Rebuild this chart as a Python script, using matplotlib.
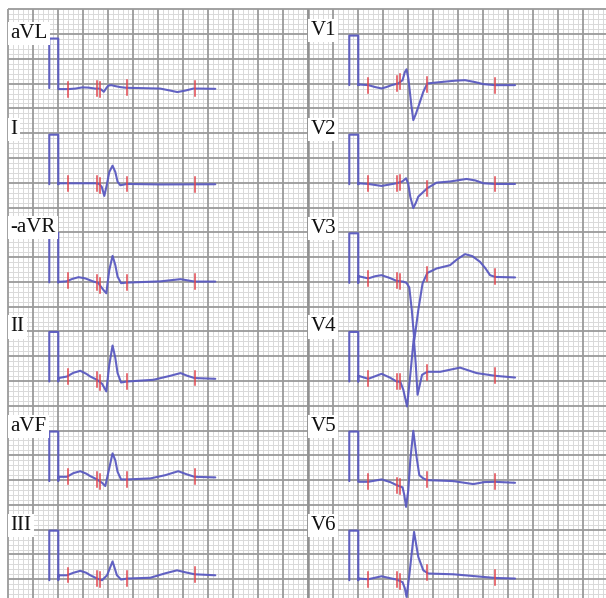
import numpy as np
import matplotlib.pyplot as plt

plt.rcParams['font.family'] = ['Liberation Serif', 'DejaVu Serif']

# ---- traces: time after calibration pulse (ms), amplitude above pulse base (mV)
AVL_T = [0, 80, 136, 192, 240, 296, 328, 344, 364, 384, 400, 424, 456, 496, 544,
         656, 816, 896, 952, 1016, 1080, 1136, 1256]
AVL_MV = [-0.02, -0.02, -0.01, 0.014, 0.01, -0.01, -0.01, -0.03, -0.075, 0.0, 0.05,
          0.06, 0.04, 0.02, 0.006, 0.0, -0.01, -0.05, -0.08, -0.05, -0.01, -0.01, -0.015]

I_T = [0, 296, 328, 348, 368, 388, 408, 434, 456, 474, 496, 550, 816, 1256]
I_MV = [0.02, 0.02, 0.006, -0.055, -0.236, -0.014, 0.248, 0.375, 0.248, 0.052,
        -0.02, 0.006, -0.004, 0.0]

AVR_T = [0, 64, 112, 162, 216, 282, 320, 336, 360, 384, 408, 434, 456, 474, 502,
         550, 816, 978, 1090, 1256]
AVR_MV = [0.01, 0.02, 0.07, 0.105, 0.08, 0.016, -0.01, -0.07, -0.15, -0.22, 0.25,
          0.535, 0.35, 0.117, -0.016, -0.004, 0.02, 0.065, 0.016, 0.016]

II_T = [2, 69, 120, 176, 224, 256, 310, 350, 384, 408, 434, 456, 474, 502, 550,
        760, 896, 978, 1032, 1090, 1256]
II_MV = [0.07, 0.10, 0.175, 0.216, 0.155, 0.10, 0.034, -0.046, -0.20, 0.337, 0.726,
         0.478, 0.17, -0.02, 0.0, 0.034, 0.115, 0.17, 0.115, 0.07, 0.054]

AVF_T = [2, 69, 120, 176, 224, 256, 310, 350, 376, 404, 434, 456, 474, 502, 550,
         736, 856, 960, 1024, 1090, 1256]
AVF_MV = [0.087, 0.087, 0.16, 0.20, 0.15, 0.10, 0.034, -0.034, -0.10, 0.22, 0.56,
          0.42, 0.19, 0.034, 0.034, 0.054, 0.12, 0.20, 0.14, 0.087, 0.075]

III_T = [2, 69, 120, 176, 224, 256, 310, 350, 390, 434, 469, 502, 550, 736, 856,
         950, 1016, 1090, 1256]
III_MV = [0.10, 0.10, 0.15, 0.19, 0.15, 0.10, 0.034, 0.0, 0.10, 0.38, 0.10, 0.014,
          0.034, 0.05, 0.14, 0.20, 0.16, 0.12, 0.10]

V1_T = [0, 80, 136, 186, 224, 266, 320, 354, 372, 386, 400, 408, 424, 440, 460, 480,
        520, 552, 680, 776, 854, 936, 1000, 1094, 1254]
V1_MV = [0.014, 0.0, -0.04, -0.067, -0.04, 0.0, 0.034, 0.10, 0.26, 0.32, 0.14, -0.034,
         -0.40, -0.706, -0.585, -0.438, -0.135, 0.034, 0.067, 0.09, 0.10, 0.06, 0.02,
         0.0, 0.0]

V2_T = [0, 80, 186, 306, 352, 382, 400, 416, 440, 460, 480, 552, 626, 736, 866, 936,
        1000, 1094, 1254]
V2_MV = [0.02, 0.006, -0.034, 0.02, 0.056, 0.12, 0.006, -0.256, -0.48, -0.377, -0.25,
         -0.08, 0.032, 0.056, 0.107, 0.077, 0.02, 0.006, 0.006]

V3_T = [0, 80, 136, 186, 256, 306, 360, 386, 408, 428, 448, 480, 514, 552, 626, 734,
        792, 854, 912, 974, 1016, 1054, 1094, 1254]
V3_MV = [0.135, 0.09, 0.135, 0.155, 0.095, 0.04, 0.024, 0.0, -0.093, -0.55, -1.156,
         -0.55, -0.012, 0.20, 0.29, 0.357, 0.478, 0.58, 0.54, 0.424, 0.297, 0.155,
         0.12, 0.11]

V4_T = [0, 80, 186, 256, 306, 336, 360, 390, 416, 444, 460, 474, 492, 510, 552, 656,
        814, 946, 1094, 1254]
V4_MV = [0.115, 0.054, 0.155, 0.075, 0.0, -0.006, -0.167, -0.504, 0.135, 0.88, 0.337,
         -0.268, -0.067, 0.135, 0.196, 0.196, 0.28, 0.17, 0.115, 0.08]

V5_T = [0, 80, 186, 256, 306, 354, 368, 382, 400, 416, 440, 466, 488, 520, 552, 760,
        920, 1008, 1094, 1254]
V5_MV = [-0.014, -0.014, 0.034, -0.02, -0.08, -0.127, -0.28, -0.52, -0.18, 0.424,
         1.015, 0.49, 0.12, 0.054, 0.02, 0.0, -0.06, -0.02, -0.014, -0.034]

V6_T = [0, 80, 186, 256, 306, 354, 372, 386, 408, 446, 480, 520, 560, 760, 896, 1094,
        1254]
V6_MV = [0.034, 0.02, 0.08, 0.04, 0.014, -0.04, -0.16, -0.337, 0.10, 0.975, 0.47,
         0.20, 0.135, 0.12, 0.09, 0.046, 0.034]

LEFT_LEADS = ['aVL', 'I', '-aVR', 'II', 'aVF', 'III']
RIGHT_LEADS = ['V1', 'V2', 'V3', 'V4', 'V5', 'V6']
LEFT_DATA = [(AVL_T, AVL_MV), (I_T, I_MV), (AVR_T, AVR_MV), (II_T, II_MV),
             (AVF_T, AVF_MV), (III_T, III_MV)]
RIGHT_DATA = [(V1_T, V1_MV), (V2_T, V2_MV), (V3_T, V3_MV), (V4_T, V4_MV),
              (V5_T, V5_MV), (V6_T, V6_MV)]
MARKER_MS = [74, 307, 336, 548, 1092]   # wave boundary marks
CAL_MV = 1.0
CAL_MS = 72

# ---- layout (page pixels -> ms / mV)
W, H = 606, 598
PX_MS = 8.0       # ms per pixel
PX_MV = 49.56     # pixels per mV
X0, Y0 = 8.3, 9.3
LEFT_T0, RIGHT_T0 = 400, 2800
LEFT_BASE = [-1.59, -3.53, -5.51, -7.51, -9.52, -11.52]
RIGHT_BASE = [-1.53, -3.53, -5.52, -7.51, -9.52, -11.52]
TRACE = '#5a5ac0'
MARK = '#e2474f'

fig = plt.figure(figsize=(W / 100, H / 100), dpi=100)
ax = fig.add_axes([0, 0, 1, 1])
xmin, xmax = -X0 * PX_MS, (W - X0) * PX_MS
ymin, ymax = -(H - Y0) / PX_MV, Y0 / PX_MV
ax.set_xlim(xmin, xmax)
ax.set_ylim(ymin, ymax)
ax.axis('off')

# ECG paper: 40 ms / 0.1 mV minor, 200 ms / 0.5 mV major
k = np.arange(0, int(xmax // 40) + 1)
ax.vlines(k[k % 5 != 0] * 40, ymin, 0, color='#d9d9d9', lw=0.7, zorder=1)
ax.vlines(k[k % 5 == 0] * 40, ymin, 0, color='#9a9a9a', lw=1.3, zorder=2)
j = np.arange(0, int(-ymin // 0.1) + 1)
ax.hlines(-j[j % 5 != 0] * 0.1, 0, xmax, color='#d9d9d9', lw=0.7, zorder=1)
ax.hlines(-j[j % 5 == 0] * 0.1, 0, xmax, color='#9a9a9a', lw=1.3, zorder=2)
ax.vlines(2400, ymin, 0, color='#929292', lw=1.8, zorder=2)


def draw_lead(name, t, mv, t0, base):
    t = np.asarray(t, float)
    mv = np.asarray(mv, float)
    xs = np.concatenate([[t0 - CAL_MS] * 2 + [t0] * 2, t0 + t])
    ys = np.concatenate([[base, base + CAL_MV, base + CAL_MV, base], base + mv])
    ax.plot(xs, ys, color=TRACE, lw=1.5, alpha=0.95, solid_joinstyle='round',
            solid_capstyle='round', zorder=3)
    for m in MARKER_MS:
        yc = base + np.interp(m, t, mv)
        ax.plot([t0 + m] * 2, [yc - 0.15, yc + 0.15], color=MARK, lw=1.1, zorder=4)
    ax.text(t0 - 382, base + CAL_MV + 0.01, name, fontsize=15, ha='left',
            va='baseline', color='#111111', zorder=5,
            bbox=dict(fc='white', ec='none', pad=1.5))


for name, (t, mv), base in zip(LEFT_LEADS, LEFT_DATA, LEFT_BASE):
    draw_lead(name, t, mv, LEFT_T0, base)
for name, (t, mv), base in zip(RIGHT_LEADS, RIGHT_DATA, RIGHT_BASE):
    draw_lead(name, t, mv, RIGHT_T0, base)

fig.savefig('out.png', dpi=100)
